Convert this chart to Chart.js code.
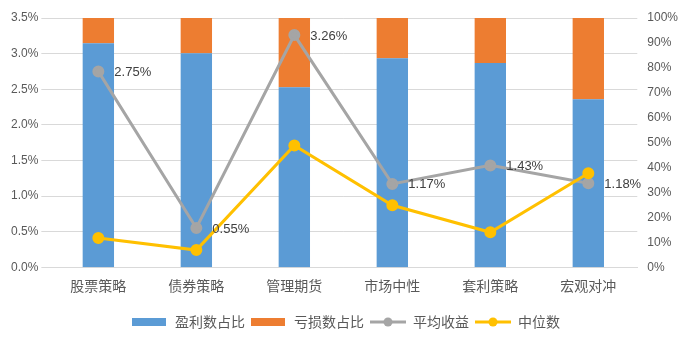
<!DOCTYPE html>
<html lang="zh">
<head>
  <meta charset="UTF-8" />
  <title>策略盈亏占比与收益</title>
  <script src="https://cdn.jsdelivr.net/npm/chart.js@4"></script>
  <style>
    html, body { margin: 0; padding: 0; background: #fff; }
    #wrap { width: 690px; height: 345px; }
  </style>
</head>
<body>
  <div id="wrap"><canvas id="chart" width="690" height="345"></canvas></div>
  <script>
    const categories = ['股票策略', '债券策略', '管理期货', '市场中性', '套利策略', '宏观对冲'];
    const profitShare = [89.9, 85.9, 72.2, 83.8, 81.9, 67.4];
    const lossShare = [10.1, 14.1, 27.8, 16.2, 18.1, 32.6];
    const avgReturn = [2.75, 0.55, 3.26, 1.17, 1.43, 1.18];
    const medianReturn = [0.41, 0.24, 1.71, 0.87, 0.49, 1.32];

    const numFont = 'Liberation Sans, Arial, sans-serif';
    const cjkFont = '"Noto Sans CJK SC", sans-serif';

    // little swatches for the legend
    function swatch(kind, color) {
      const c = document.createElement('canvas');
      c.width = 36; c.height = 10;
      const g = c.getContext('2d');
      if (kind === 'box') {
        g.fillStyle = color;
        g.fillRect(0, 1, 34, 8);
      } else {
        g.strokeStyle = color;
        g.lineWidth = 3;
        g.beginPath(); g.moveTo(0, 5); g.lineTo(36, 5); g.stroke();
        g.fillStyle = color;
        g.beginPath(); g.arc(18, 5, 4.5, 0, Math.PI * 2); g.fill();
      }
      return c;
    }

    const valueLabels = {
      id: 'valueLabels',
      afterDatasetsDraw(chart) {
        const ctx = chart.ctx;
        const meta = chart.getDatasetMeta(2);
        ctx.save();
        ctx.font = '13px ' + numFont;
        ctx.fillStyle = '#404040';
        ctx.textBaseline = 'middle';
        meta.data.forEach((pt, i) => {
          ctx.fillText(avgReturn[i].toFixed(2) + '%', pt.x + 16, pt.y + 1);
        });
        ctx.restore();
      }
    };

    new Chart(document.getElementById('chart'), {
      data: {
        labels: categories,
        datasets: [
          { type: 'bar', label: '盈利数占比', data: profitShare, backgroundColor: '#5B9BD5',
            yAxisID: 'y1', stack: 's', order: 2, barPercentage: 0.32, categoryPercentage: 1 },
          { type: 'bar', label: '亏损数占比', data: lossShare, backgroundColor: '#ED7D31',
            yAxisID: 'y1', stack: 's', order: 2, barPercentage: 0.32, categoryPercentage: 1 },
          { type: 'line', label: '平均收益', data: avgReturn, borderColor: '#A5A5A5', backgroundColor: '#A5A5A5',
            borderWidth: 3, pointRadius: 4.5, yAxisID: 'y', order: 1, tension: 0 },
          { type: 'line', label: '中位数', data: medianReturn, borderColor: '#FFC000', backgroundColor: '#FFC000',
            borderWidth: 3, pointRadius: 4.5, yAxisID: 'y', order: 0, tension: 0 }
        ]
      },
      options: {
        responsive: false,
        animation: false,
        layout: { padding: { top: 18, left: 8, right: 6, bottom: 6 } },
        scales: {
          x: {
            grid: { display: false },
            border: { color: '#D9D9D9' },
            ticks: { color: '#595959', font: { family: cjkFont, size: 14 }, padding: 2 },
            afterFit(scale) { scale.height += 13; }
          },
          y: {
            position: 'left',
            min: 0, max: 3.5,
            ticks: { stepSize: 0.5, color: '#595959', font: { family: numFont, size: 12 },
              callback: v => v.toFixed(1) + '%' },
            grid: { color: '#D9D9D9' },
            border: { display: false }
          },
          y1: {
            position: 'right',
            min: 0, max: 100,
            ticks: { stepSize: 10, color: '#595959', font: { family: numFont, size: 12 },
              callback: v => v + '%', padding: 2 },
            grid: { display: false },
            border: { display: false },
            afterFit(scale) { scale.width += 4; }
          }
        },
        plugins: {
          tooltip: { enabled: false },
          legend: {
            position: 'bottom',
            labels: {
              color: '#595959',
              font: { family: cjkFont, size: 14 },
              usePointStyle: true,
              pointStyleWidth: 36,
              boxHeight: 10,
              padding: 6,
              generateLabels(chart) {
                const kinds = ['box', 'box', 'line', 'line'];
                return chart.data.datasets.map((ds, i) => ({
                  text: ds.label,
                  fontColor: '#595959',
                  pointStyle: swatch(kinds[i], ds.backgroundColor),
                  datasetIndex: i,
                  hidden: false,
                  lineWidth: 0
                }));
              }
            }
          }
        }
      },
      plugins: [valueLabels]
    });
  </script>
</body>
</html>
